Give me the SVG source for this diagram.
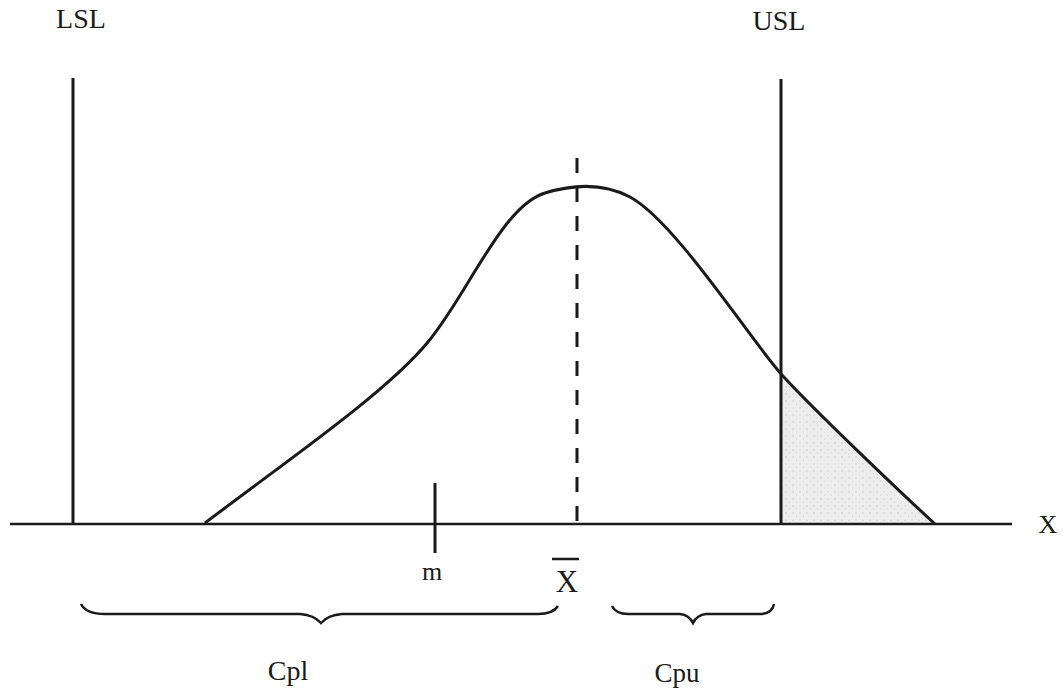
<svg xmlns="http://www.w3.org/2000/svg" width="1063" height="693" viewBox="0 0 1063 693">
  <style>
    .ln { stroke: #1a1a1a; fill: none; stroke-linecap: butt; }
    .txt { font-family: "Liberation Serif", "Times New Roman", serif; fill: #1a1a1a; text-anchor: middle; }
  </style>
  <defs>
    <pattern id="stipple" width="7" height="7" patternUnits="userSpaceOnUse">
      <rect width="7" height="7" fill="#ededed"/>
      <circle cx="2" cy="2" r="0.7" fill="#c8c8c8"/>
      <circle cx="5.5" cy="5" r="0.6" fill="#d0d0d0"/>
    </pattern>
  </defs>
  <rect width="1063" height="693" fill="#ffffff"/>

  <g id="tail-area">
    <path fill="url(#stipple)" d="M782,375 C812,408 900,492 935,524 L782,524 Z"/>
  </g>

  <g id="axis">
    <line class="ln" x1="10" y1="524" x2="1012" y2="524" stroke-width="2.5"/>
    <text class="txt" x="1048" y="533" font-size="26">X</text>
  </g>

  <g id="lsl">
    <line class="ln" x1="73" y1="78" x2="73" y2="524" stroke-width="3"/>
    <text class="txt" x="81" y="28" font-size="28">LSL</text>
  </g>

  <g id="usl">
    <line class="ln" x1="781" y1="79" x2="781" y2="524" stroke-width="3"/>
    <text class="txt" x="779" y="30" font-size="28">USL</text>
  </g>

  <g id="curve">
    <path class="ln" stroke-width="3" d="M205,523 C285,462 385,394 428,342 C468,294 502,206 545,193 C568,186 600,181 630,197 C675,221 752,342 782,375 C812,408 900,492 935,524"/>
  </g>

  <g id="mean">
    <line class="ln" x1="577" y1="158" x2="577" y2="524" stroke-width="3" stroke-dasharray="15 14"/>
    <line class="ln" x1="552" y1="559" x2="579" y2="559" stroke-width="2.5"/>
    <text class="txt" x="567" y="592" font-size="31">X</text>
  </g>

  <g id="m">
    <line class="ln" x1="435" y1="483" x2="435" y2="553" stroke-width="3"/>
    <text class="txt" x="432" y="580" font-size="26">m</text>
  </g>

  <g id="cpl">
    <path class="ln" stroke-width="2.5" d="M81,604 Q86,614 105,614 L300,614 Q314,615 321,623 Q328,615 342,614 L538,614 Q553,614 558,606"/>
    <text class="txt" x="288" y="680" font-size="28">Cpl</text>
  </g>

  <g id="cpu">
    <path class="ln" stroke-width="2.5" d="M612,606 Q616,614 628,614 L680,614 Q689,615 693,623 Q697,615 706,614 L760,614 Q772,614 774,604"/>
    <text class="txt" x="677" y="682" font-size="27">Cpu</text>
  </g>
</svg>
